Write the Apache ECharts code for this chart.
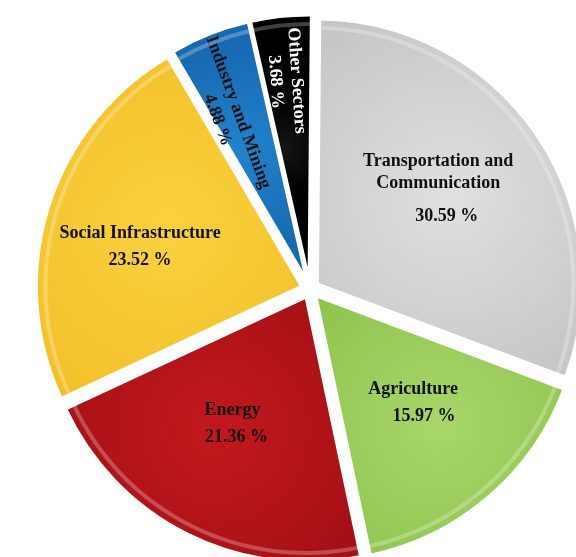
<!DOCTYPE html>
<html>
<head>
<meta charset="utf-8">
<script src="https://cdn.jsdelivr.net/npm/echarts@6/dist/echarts.min.js"></script>
<style>
  html, body { margin: 0; padding: 0; background: #fff; }
  #chart { width: 576px; height: 557px; }
</style>
</head>
<body>
<div id="chart"></div>
<script>
/* ---------------- DATA ---------------- */

const SECTORS = [
    "Transportation and\nCommunication",
    "Agriculture",
    "Energy",
    "Social Infrastructure",
    "Industry and Mining",
    "Other Sectors",
];

const SHARES = [30.59, 15.97, 21.36, 23.52, 4.88, 3.68];

/* ---------------- STYLE ---------------- */

const FILLS = [
    ["#e0e0e2", "#c6c6c8"], // gray
    ["#a8d66a", "#8cc24b"], // green
    ["#c2181d", "#a00f13"], // red
    ["#fad23e", "#f2bf2a"], // yellow
    ["#2283cd", "#176ab2"], // blue
    ["#161616", "#000000"], // black
];

const TEXT_COLORS = ["#111", "#111", "#111", "#111", "#111", "#fff"];
const LABEL_ROTATE = [0, 0, 0, 0, -70, -86];
const NAME_LH = [22, 24, 24, 24, 20, 20];
const VALUE_LH = [44, 30, 30, 30, 24, 22];
const VALUE_PAD = [17, 22, 8, 0, 0, 0];
// screen-space nudge of each label block
const LABEL_SHIFT = [[9, -13], [9, 6], [-13, 7], [-32, 2], [-30, -38], [-9, -64]];

const FONT = { fontFamily: "Liberation Serif", fontWeight: "bold", fontSize: 18 };

function fill(i) {
    return new echarts.graphic.RadialGradient(0.5, 0.5, 0.75, [
        { offset: 0, color: FILLS[i][0] },
        { offset: 1, color: FILLS[i][1] },
    ]);
}

/* ---------------- CHART ---------------- */

const chart = echarts.init(document.getElementById("chart"));

const CENTER = [310, 289];
const R = 265;

const common = {
    type: "pie",
    center: CENTER,
    startAngle: 89.5,
    clockwise: true,
    selectedMode: "multiple",
    selectedOffset: 9,
    avoidLabelOverlap: false,
    emphasis: { disabled: true },
    labelLine: { show: false },
};

chart.setOption({
    animation: false,
    series: [
        {
            ...common,
            radius: R,
            itemStyle: { borderColor: "#fff", borderWidth: 3 },
            label: {
                position: "inside",
                ...FONT,
                formatter: (p) => `{n|${p.name}}\n{v|${p.value.toFixed(2)} %}`,
            },
            labelLayout: (p) => {
                const [sx, sy] = LABEL_SHIFT[p.dataIndex];
                const a = -LABEL_ROTATE[p.dataIndex] * Math.PI / 180;
                return {
                    dx: sx * Math.cos(a) + sy * Math.sin(a),
                    dy: -sx * Math.sin(a) + sy * Math.cos(a),
                };
            },
            data: SECTORS.map((name, i) => ({
                name,
                value: SHARES[i],
                selected: true,
                itemStyle: { color: fill(i) },
                select: { itemStyle: { color: fill(i) } },
                label: {
                    rotate: LABEL_ROTATE[i],
                    color: TEXT_COLORS[i],
                    rich: {
                        n: { ...FONT, color: TEXT_COLORS[i], lineHeight: NAME_LH[i] },
                        v: { ...FONT, color: TEXT_COLORS[i], lineHeight: VALUE_LH[i],
                             padding: [0, 0, 0, VALUE_PAD[i]] },
                    },
                },
            })),
        },
        {
            // light bevel rim along each outer arc
            ...common,
            radius: [R - 11, R - 7],
            silent: true,
            z: 3,
            label: { show: false },
            itemStyle: { color: "rgba(255,255,255,0.25)" },
            select: { itemStyle: { color: "rgba(255,255,255,0.25)" } },
            data: SECTORS.map((name, i) => ({ name, value: SHARES[i], selected: true })),
        },
    ],
});
</script>
</body>
</html>
